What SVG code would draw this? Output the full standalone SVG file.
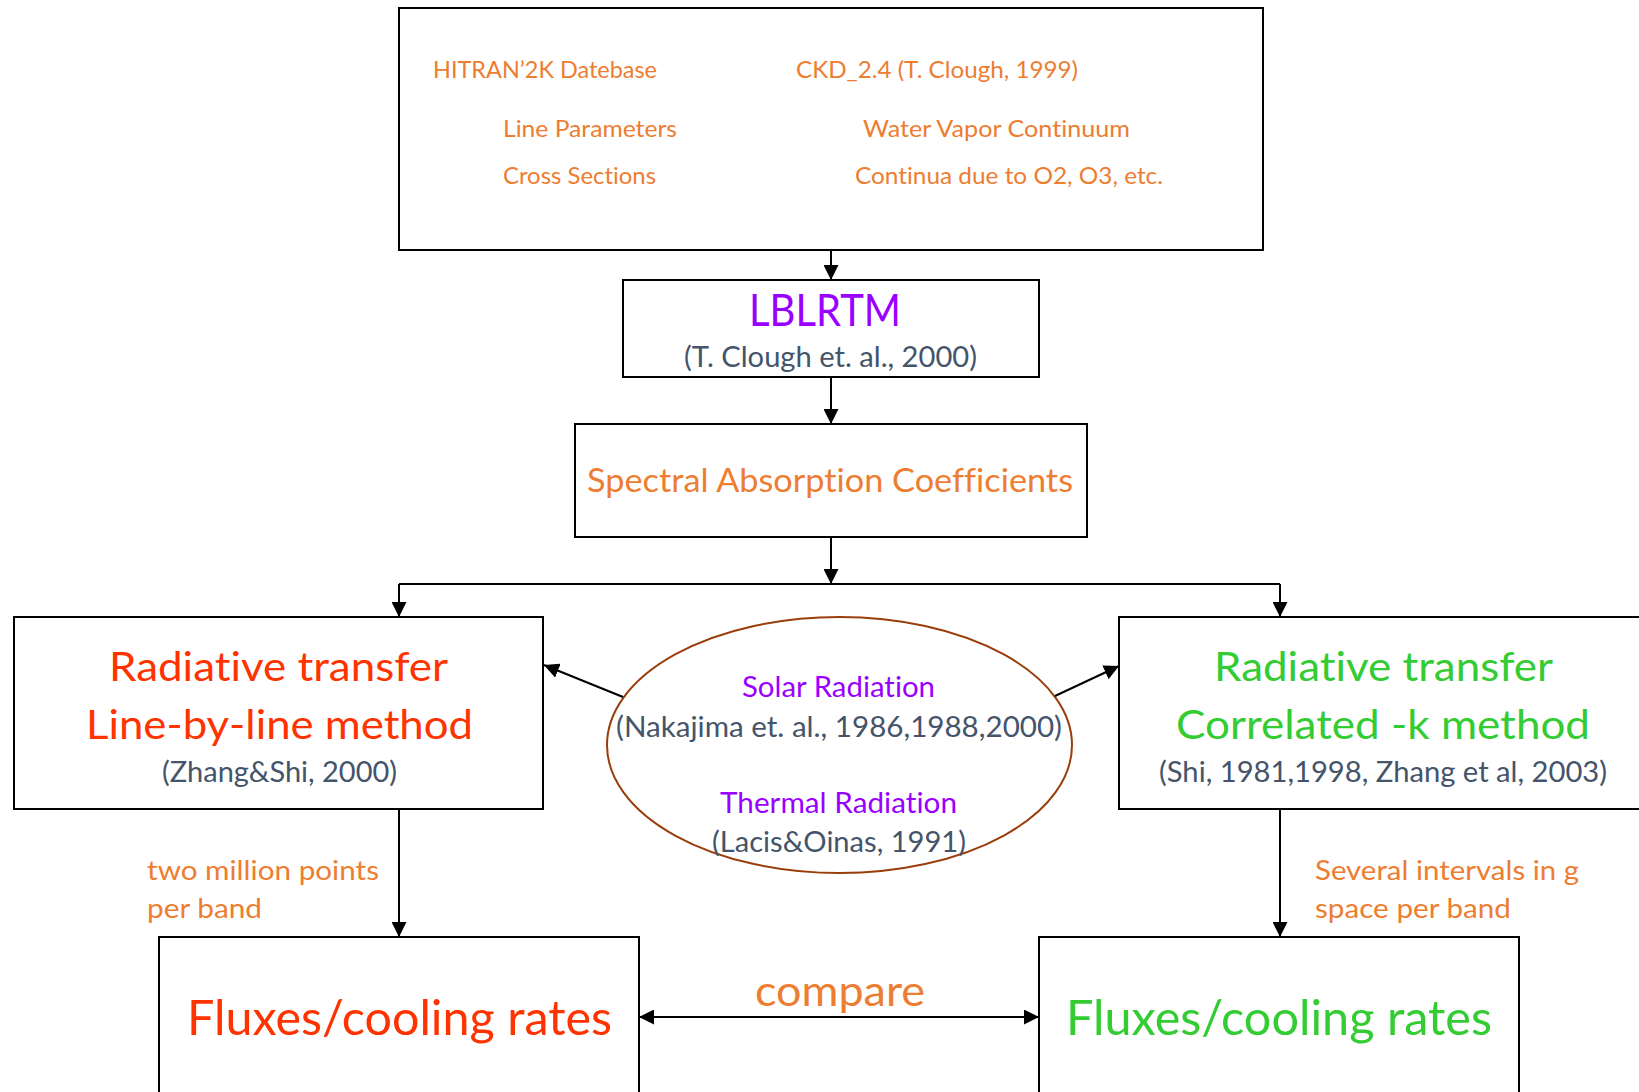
<svg xmlns="http://www.w3.org/2000/svg" width="1639" height="1092" viewBox="0 0 1639 1092">
<style>
  text { font-family: Lato, "Open Sans", "Liberation Sans", sans-serif; font-variant-ligatures: none; font-feature-settings: "liga" 0, "clig" 0, "dlig" 0; }
  .box { fill: #ffffff; stroke: #000000; stroke-width: 2; }
  .con { fill: none; stroke: #000000; stroke-width: 2; }
  .org { fill: #ED7D31; }
  .pur { fill: #9900FF; }
  .red { fill: #FF3300; }
  .grn { fill: #33CC33; }
  .sla { fill: #44546A; }
</style>
<defs>
  <marker id="ah" markerWidth="15" markerHeight="15" refX="15" refY="7.5" orient="auto-start-reverse" markerUnits="userSpaceOnUse">
    <path d="M0,0 L15,7.5 L0,15 z" fill="#000000"/>
  </marker>
</defs>
<rect width="1639" height="1092" fill="#ffffff"/>

<g id="sources">
  <rect class="box" x="399" y="8" width="864" height="242"/>
  <text class="org" x="433" y="78" font-size="24" textLength="224" lengthAdjust="spacingAndGlyphs">HITRAN’2K Datebase</text>
  <text class="org" x="796" y="78" font-size="24" textLength="282" lengthAdjust="spacingAndGlyphs">CKD_2.4 (T. Clough, 1999)</text>
  <text class="org" x="503" y="137" font-size="24" textLength="174" lengthAdjust="spacingAndGlyphs">Line Parameters</text>
  <text class="org" x="863" y="137" font-size="24" textLength="267" lengthAdjust="spacingAndGlyphs">Water Vapor Continuum</text>
  <text class="org" x="503" y="184" font-size="24" textLength="153" lengthAdjust="spacingAndGlyphs">Cross Sections</text>
  <text class="org" x="855" y="184" font-size="24" textLength="308" lengthAdjust="spacingAndGlyphs">Continua due to O2, O3, etc.</text>
</g>

<g id="lblrtm">
  <rect class="box" x="623" y="280" width="416" height="97"/>
  <text class="pur" x="749" y="326" font-size="44" textLength="152" lengthAdjust="spacingAndGlyphs">LBLRTM</text>
  <text class="sla" x="684" y="367" font-size="29" textLength="293" lengthAdjust="spacingAndGlyphs">(T. Clough et. al., 2000)</text>
</g>

<g id="spectral">
  <rect class="box" x="575" y="424" width="512" height="113"/>
  <text class="org" x="587" y="492" font-size="33" textLength="486" lengthAdjust="spacingAndGlyphs">Spectral Absorption Coefficients</text>
</g>

<g id="lbl-method">
  <rect class="box" x="14" y="617" width="529" height="192"/>
  <text class="red" x="109" y="681" font-size="41" textLength="339" lengthAdjust="spacingAndGlyphs">Radiative transfer</text>
  <text class="red" x="86" y="739" font-size="41" textLength="387" lengthAdjust="spacingAndGlyphs">Line-by-line method</text>
  <text class="sla" x="162" y="782" font-size="29" textLength="235" lengthAdjust="spacingAndGlyphs">(Zhang&amp;Shi, 2000)</text>
</g>

<g id="ck-method">
  <rect class="box" x="1119" y="617" width="540" height="192"/>
  <text class="grn" x="1214" y="681" font-size="41" textLength="339" lengthAdjust="spacingAndGlyphs">Radiative transfer</text>
  <text class="grn" x="1176" y="739" font-size="41" textLength="414" lengthAdjust="spacingAndGlyphs">Correlated -k method</text>
  <text class="sla" x="1159" y="782" font-size="29" textLength="448" lengthAdjust="spacingAndGlyphs">(Shi, 1981,1998, Zhang et al, 2003)</text>
</g>

<g id="radiation">
  <ellipse cx="839.5" cy="745" rx="232.5" ry="128" fill="none" stroke="#9A3D0A" stroke-width="2"/>
  <text class="pur" x="742" y="697" font-size="28" textLength="193" lengthAdjust="spacingAndGlyphs">Solar Radiation</text>
  <text class="sla" x="616" y="737" font-size="29" textLength="446" lengthAdjust="spacingAndGlyphs">(Nakajima et. al., 1986,1988,2000)</text>
  <text class="pur" x="720" y="813" font-size="28" textLength="237" lengthAdjust="spacingAndGlyphs">Thermal Radiation</text>
  <text class="sla" x="712" y="852" font-size="29" textLength="254" lengthAdjust="spacingAndGlyphs">(Lacis&amp;Oinas, 1991)</text>
</g>

<g id="flux-lbl">
  <rect class="box" x="159" y="937" width="480" height="170"/>
  <text class="red" x="187" y="1035" font-size="49" textLength="425" lengthAdjust="spacingAndGlyphs">Fluxes/cooling rates</text>
</g>

<g id="flux-ck">
  <rect class="box" x="1039" y="937" width="480" height="170"/>
  <text class="grn" x="1066" y="1035" font-size="49" textLength="426" lengthAdjust="spacingAndGlyphs">Fluxes/cooling rates</text>
</g>

<g id="connectors">
  <path class="con" d="M831,250 V280" marker-end="url(#ah)"/>
  <path class="con" d="M831,377 V424" marker-end="url(#ah)"/>
  <path class="con" d="M831,537 V584" marker-end="url(#ah)"/>
  <path class="con" d="M399,584 H1280" stroke-width="2.5"/>
  <path class="con" d="M399,584 V617" marker-end="url(#ah)"/>
  <path class="con" d="M1280,584 V617" marker-end="url(#ah)"/>
  <path class="con" d="M623,697 L544,665" marker-end="url(#ah)"/>
  <path class="con" d="M1055,696 L1119,666" marker-end="url(#ah)"/>
  <path class="con" d="M399,809 V937" marker-end="url(#ah)"/>
  <path class="con" d="M1280,809 V937" marker-end="url(#ah)"/>
  <path class="con" d="M639,1017 H1039" marker-start="url(#ah)" marker-end="url(#ah)"/>
</g>

<g id="labels">
  <text class="org" x="147" y="880" font-size="27" textLength="232" lengthAdjust="spacingAndGlyphs">two million points</text>
  <text class="org" x="147" y="918" font-size="27" textLength="115" lengthAdjust="spacingAndGlyphs">per band</text>
  <text class="org" x="1315" y="880" font-size="27" textLength="264" lengthAdjust="spacingAndGlyphs">Several intervals in g</text>
  <text class="org" x="1315" y="918" font-size="27" textLength="196" lengthAdjust="spacingAndGlyphs">space per band</text>
  <text class="org" x="755" y="1006" font-size="43" textLength="170" lengthAdjust="spacingAndGlyphs">compare</text>
</g>
</svg>
